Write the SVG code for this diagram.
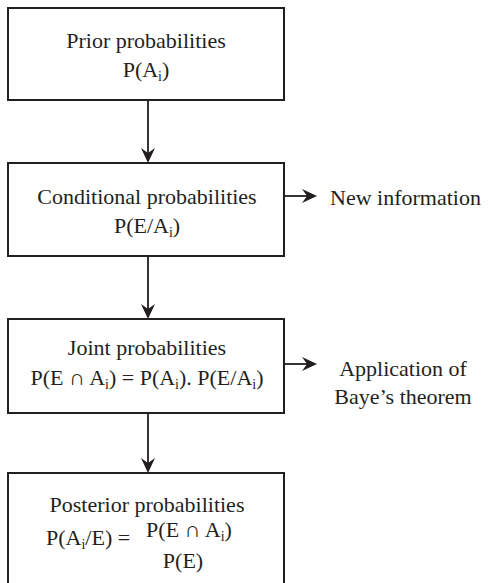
<svg xmlns="http://www.w3.org/2000/svg" width="488" height="583" viewBox="0 0 488 583">
<defs>
<style>
.box{fill:#fff;stroke:#231f20;stroke-width:2}
.ln{stroke:#231f20;stroke-width:1.8;fill:none}
.hd{fill:#231f20}
text{font-family:"Liberation Serif","Times New Roman",serif;font-size:22px;fill:#231f20}
.c{text-anchor:middle}
.sub{font-size:14px}
</style>
<path id="ah" d="M0,0 L-7,-15 L0,-10 L7,-15 Z"/>
<path id="ahr" d="M0,0 L-15,-7 L-10,0 L-15,7 Z"/>
</defs>
<rect width="488" height="583" fill="#fff"/>
<g id="connectors">
<line class="ln" x1="148" y1="101" x2="148" y2="158"/>
<use href="#ah" class="hd" x="148" y="163"/>
<line class="ln" x1="148" y1="256" x2="148" y2="314"/>
<use href="#ah" class="hd" x="148" y="319"/>
<line class="ln" x1="148" y1="413" x2="148" y2="468"/>
<use href="#ah" class="hd" x="148" y="473"/>
<line class="ln" x1="284" y1="196" x2="312" y2="196"/>
<use href="#ahr" class="hd" x="317" y="196"/>
<line class="ln" x1="284" y1="364" x2="312" y2="364"/>
<use href="#ahr" class="hd" x="317" y="364"/>
</g>
<g id="prior">
<rect class="box" x="8" y="8" width="276" height="92"/>
<text class="c" x="146" y="48">Prior probabilities</text>
<text class="c" x="146" y="77">P(A<tspan class="sub" dy="4">i</tspan><tspan dy="-4">)</tspan></text>
</g>
<g id="conditional">
<rect class="box" x="8" y="163" width="276" height="93"/>
<text class="c" x="147" y="204">Conditional probabilities</text>
<text class="c" x="147" y="233">P(E/A<tspan class="sub" dy="4">i</tspan><tspan dy="-4">)</tspan></text>
</g>
<g id="newinfo">
<text x="330" y="205">New information</text>
</g>
<g id="joint">
<rect class="box" x="8" y="319" width="276" height="94"/>
<text class="c" x="147" y="355">Joint probabilities</text>
<text class="c" x="147" y="385">P(E ∩ A<tspan class="sub" dy="4">i</tspan><tspan dy="-4">) = P(A</tspan><tspan class="sub" dy="4">i</tspan><tspan dy="-4">). P(E/A</tspan><tspan class="sub" dy="4">i</tspan><tspan dy="-4">)</tspan></text>
</g>
<g id="bayes">
<text class="c" x="403" y="376">Application of</text>
<text class="c" x="403" y="404">Baye’s theorem</text>
</g>
<g id="posterior">
<rect class="box" x="8" y="473" width="276" height="120"/>
<text class="c" x="147" y="512">Posterior probabilities</text>
<text x="46" y="545">P(A<tspan class="sub" dy="4">i</tspan><tspan dy="-4">/E) =</tspan></text>
<text class="c" x="189" y="537">P(E ∩ A<tspan class="sub" dy="4">i</tspan><tspan dy="-4">)</tspan></text>
<text class="c" x="183" y="568">P(E)</text>
</g>
</svg>
